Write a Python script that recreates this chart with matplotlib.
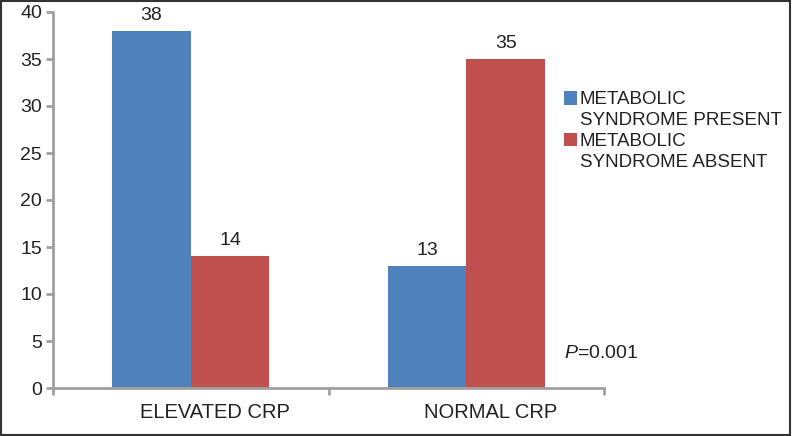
import matplotlib
matplotlib.use("Agg")
import matplotlib.pyplot as plt
import matplotlib.transforms as mtransforms
from matplotlib.patches import Rectangle
from matplotlib.container import BarContainer
from matplotlib.legend_handler import HandlerPatch, update_from_first_child
import numpy as np

plt.rcParams['font.family'] = ['Liberation Sans', 'DejaVu Sans']
plt.rcParams['mathtext.fontset'] = 'custom'
plt.rcParams['mathtext.rm'] = 'Liberation Sans'
plt.rcParams['mathtext.it'] = 'Liberation Sans:italic'

categories = ["ELEVATED CRP", "NORMAL CRP"]
series_names = ["METABOLIC\nSYNDROME PRESENT", "METABOLIC\nSYNDROME ABSENT"]
present = [38, 13]
absent = [14, 35]
colors = ["#4F81BD", "#C0504D"]
y_ticks = [0, 5, 10, 15, 20, 25, 30, 35, 40]
p_text = r"$\mathit{P}$=0.001"

fig = plt.figure(figsize=(7.92, 4.36), dpi=100)
ax = fig.add_axes([53/792, 1-388/436, (604-53)/792, (388-12)/436])

x = np.arange(len(categories))
w = 1/3.5
b1 = ax.bar(x - w/2, present, w, color=colors[0], label=series_names[0])
b2 = ax.bar(x + w/2, absent, w, color=colors[1], label=series_names[1])
for bars in (b1, b2):
    ax.bar_label(bars, padding=5, fontsize=14, color="#222222")

ax.set_xlim(-0.5, 1.5)
ax.set_ylim(0, 40)
ax.set_yticks(y_ticks)
ax.tick_params(axis='y', labelsize=14, length=5, width=2, color="#a0a0a0", labelcolor="#222222", pad=3)
ax.set_xticks(x)
ax.set_xticklabels(categories)
ax.tick_params(axis='x', which='major', length=0, labelsize=14.5, labelcolor="#222222", pad=11)
ax.set_xticks([-0.5, 0.5, 1.5], minor=True)
ax.tick_params(axis='x', which='minor', length=5, width=2, color="#a0a0a0")
offset = mtransforms.ScaledTranslation(0.24, 0, fig.dpi_scale_trans)
for lbl in ax.get_xticklabels():
    lbl.set_transform(lbl.get_transform() + offset)

for s in ("top", "right"):
    ax.spines[s].set_visible(False)
for s in ("left", "bottom"):
    ax.spines[s].set_color("#a0a0a0")
    ax.spines[s].set_linewidth(2)


def top_square(legend, orig_handle, xdescent, ydescent, width, height, fontsize):
    side = min(width, height)
    return Rectangle((-xdescent, -ydescent + 9), side, side)


leg = fig.legend(loc="upper left", bbox_to_anchor=(556/792, 1-84/436), frameon=False,
                 fontsize=13.5, handlelength=0.72, handleheight=0.72, handletextpad=0.15,
                 labelspacing=0.2, borderaxespad=0,
                 handler_map={BarContainer: HandlerPatch(patch_func=top_square,
                                                         update_func=update_from_first_child)})
for t in leg.get_texts():
    t.set_color("#222222")
    t.set_linespacing(1.3)

fig.text(564/792, 1-353/436, p_text, fontsize=14, va="center", ha="left", color="#222222")

fig.patches.append(Rectangle((1/792, 1/436), 789/792, 434/436, transform=fig.transFigure,
                             fill=False, edgecolor="#333333", linewidth=1.5))

fig.savefig("out.png", dpi=100)
